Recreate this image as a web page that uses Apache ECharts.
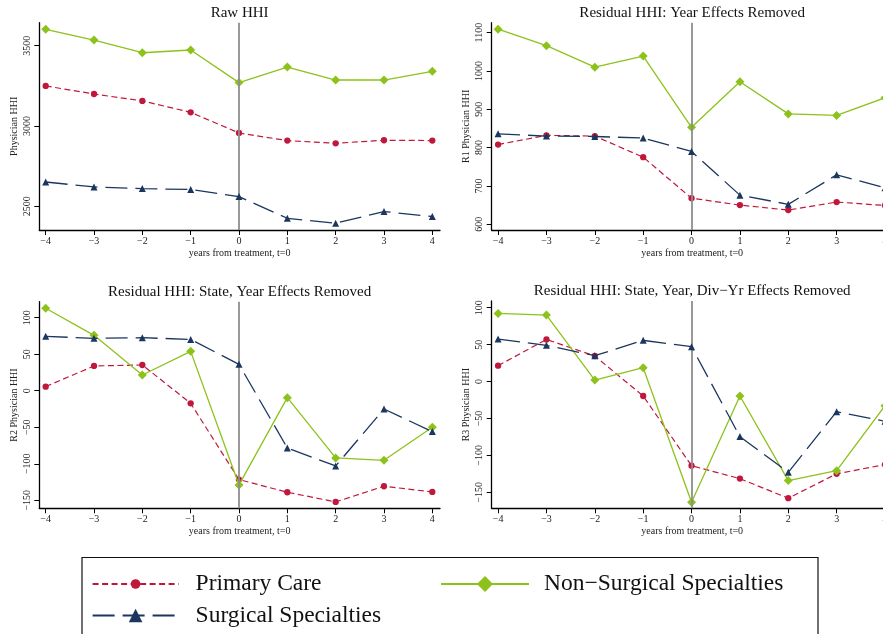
<!DOCTYPE html>
<html>
<head>
<meta charset="utf-8">
<script src="https://cdn.jsdelivr.net/npm/echarts@6/dist/echarts.min.js"></script>
<style>
  html, body { margin: 0; padding: 0; background: #ffffff; }
  #chart { width: 883px; height: 634px; }
</style>
</head>
<body>
<div id="chart"></div>
<script>
// Event time relative to treatment (t = 0)
const years = [-4, -3, -2, -1, 0, 1, 2, 3, 4];
const xTicks = [-4, -3, -2, -1, 0, 1, 2, 3, 4];

// Raw HHI
const rawPrimary   = [3249, 3199, 3156, 3085, 2956, 2909, 2892, 2911, 2909];
const rawSurgical  = [2651, 2620, 2610, 2604, 2560, 2425, 2394, 2467, 2436];
const rawNonSurg   = [3602, 3535, 3456, 3473, 3270, 3367, 3286, 3286, 3340];
const rawTicks     = [2500, 3000, 3500];

// Residual HHI: year effects removed
const r1Primary    = [808, 832, 830, 775, 668, 650, 637, 658, 649];
const r1Surgical   = [836, 830, 829, 825, 790, 676, 652, 729, 695];
const r1NonSurg    = [1109, 1066, 1010, 1039, 853, 972, 888, 884, 930];
const r1Ticks      = [600, 700, 800, 900, 1000, 1100];

// Residual HHI: state, year effects removed
const r2Primary    = [5.6, 33.9, 35.2, -17.2, -121.7, -139, -152.3, -130.8, -138.6];
const r2Surgical   = [74.5, 71.7, 72.6, 70.3, 36.1, -78.4, -103, -25, -56];
const r2NonSurg    = [113, 75.8, 21.5, 53.9, -129, -9.5, -92, -95.3, -50.1];
const r2Ticks      = [-150, -100, -50, 0, 50, 100];

// Residual HHI: state, year, division-year effects removed
const r3Primary    = [21.5, 57, 34.6, -19.6, -114, -131.5, -158, -125, -112.5];
const r3Surgical   = [57.6, 49, 35, 55.8, 47.2, -74.6, -123, -40.8, -53.9];
const r3NonSurg    = [92.3, 90, 2, 18.8, -163.5, -19.6, -134.2, -120.7, -32.7];
const r3Ticks      = [-150, -100, -50, 0, 50, 100];

const FONT = '"Liberation Serif", "DejaVu Serif", "Times New Roman", serif';
const NAME_PRIMARY  = 'Primary Care';
const NAME_SURGICAL = 'Surgical Specialties';
const NAME_NONSURG  = 'Non\u2212Surgical Specialties';
const C_PRIMARY  = '#c0183c';
const C_SURGICAL = '#1b365f';
const C_NONSURG  = '#8dc21c';

const fmtNum = v => (v < 0 ? '\u2212' + Math.abs(v) : String(v));

const panels = [
  { title: 'Raw HHI', yName: 'Physician HHI', ticks: rawTicks, yMin: 2352, yMax: 3643,
    grid: { left: 39.3, top: 22.7, width: 400.7, height: 207.3 },
    primary: rawPrimary, surgical: rawSurgical, nonsurg: rawNonSurg },
  { title: 'Residual HHI: Year Effects Removed', yName: 'R1 Physician HHI', ticks: r1Ticks, yMin: 585, yMax: 1126,
    grid: { left: 491.7, top: 22.7, width: 401, height: 207.3 },
    primary: r1Primary, surgical: r1Surgical, nonsurg: r1NonSurg },
  { title: 'Residual HHI: State, Year Effects Removed', yName: 'R2 Physician HHI', ticks: r2Ticks, yMin: -161, yMax: 121.9,
    grid: { left: 39.3, top: 301.7, width: 400.7, height: 206.6 },
    primary: r2Primary, surgical: r2Surgical, nonsurg: r2NonSurg },
  { title: 'Residual HHI: State, Year, Div\u2212Yr Effects Removed', yName: 'R3 Physician HHI', ticks: r3Ticks, yMin: -171.7, yMax: 109.1,
    grid: { left: 491.7, top: 301, width: 401, height: 207.3 },
    primary: r3Primary, surgical: r3Surgical, nonsurg: r3NonSurg }
];

const pairs = vals => years.map((x, i) => [x, vals[i]]);

const titles = [], grids = [], xAxes = [], yAxes = [], series = [];

panels.forEach((p, i) => {
  titles.push({
    text: p.title,
    left: p.grid.left + p.grid.width / 2,
    top: p.grid.top - 17,
    textAlign: 'center',
    padding: 0,
    textStyle: { fontFamily: FONT, fontSize: 15, fontWeight: 'normal', color: '#111' }
  });
  grids.push(Object.assign({ containLabel: false, outerBoundsMode: 'none' }, p.grid));
  xAxes.push({
    type: 'value', gridIndex: i, min: -4.132, max: 4.159,
    name: 'years from treatment, t=0', nameLocation: 'middle', nameGap: 18,
    nameTextStyle: { fontFamily: FONT, fontSize: 10, color: '#222' },
    axisLine: { show: true, onZero: false, lineStyle: { color: '#000', width: 1.3 } },
    axisTick: { show: true, length: 5, customValues: xTicks, lineStyle: { color: '#000', width: 1 } },
    axisLabel: { show: true, margin: 6, customValues: xTicks, formatter: fmtNum,
                 fontFamily: FONT, fontSize: 10, color: '#222' },
    splitLine: { show: false }
  });
  yAxes.push({
    type: 'value', gridIndex: i, min: p.yMin, max: p.yMax,
    name: p.yName, nameLocation: 'middle', nameGap: 20, nameRotate: 90,
    nameTextStyle: { fontFamily: FONT, fontSize: 10, color: '#222' },
    axisLine: { show: true, onZero: false, lineStyle: { color: '#000', width: 1.3 } },
    axisTick: { show: true, length: 5, customValues: p.ticks, lineStyle: { color: '#000', width: 1 } },
    axisLabel: { show: true, rotate: 90, margin: 7, customValues: p.ticks, formatter: fmtNum,
                 fontFamily: FONT, fontSize: 10, color: '#222' },
    splitLine: { show: false }
  });
  // treatment year reference line
  series.push({
    type: 'line', xAxisIndex: i, yAxisIndex: i, data: [], z: 1, silent: true,
    markLine: {
      silent: true, symbol: ['none', 'none'], label: { show: false },
      lineStyle: { color: '#8e8e8e', width: 1.8, type: 'solid' },
      emphasis: { disabled: true },
      data: [{ xAxis: 0 }]
    }
  });
  series.push({
    name: NAME_PRIMARY, type: 'line', xAxisIndex: i, yAxisIndex: i, z: 3,
    data: pairs(p.primary), symbol: 'circle', symbolSize: 6.3,
    itemStyle: { color: C_PRIMARY },
    lineStyle: { color: C_PRIMARY, width: 1.2, type: [6, 3.5] }
  });
  series.push({
    name: NAME_NONSURG, type: 'line', xAxisIndex: i, yAxisIndex: i, z: 4,
    data: pairs(p.nonsurg), symbol: 'diamond', symbolSize: [9, 9],
    itemStyle: { color: C_NONSURG },
    lineStyle: { color: C_NONSURG, width: 1.3, type: 'solid' }
  });
  series.push({
    name: NAME_SURGICAL, type: 'line', xAxisIndex: i, yAxisIndex: i, z: 5,
    data: pairs(p.surgical), symbol: 'triangle', symbolSize: 7,
    itemStyle: { color: C_SURGICAL },
    lineStyle: { color: C_SURGICAL, width: 1.3, type: [22, 8] }
  });
});

const legendText = { fontFamily: FONT, fontSize: 23.5, color: '#111', padding: [0, 0, 0, 12] };
const legends = [
  { data: [NAME_PRIMARY], left: 91.7, top: 582 - 10, itemWidth: 86, itemHeight: 12,
    lineStyle: { width: 1.8 }, textStyle: legendText },
  { data: [NAME_NONSURG], left: 440, top: 582 - 10, itemWidth: 88, itemHeight: 20,
    lineStyle: { width: 2 }, textStyle: Object.assign({}, legendText, { padding: [0, 0, 0, 10] }) },
  { data: [NAME_SURGICAL], left: 91.7, top: 614 - 10.5, itemWidth: 86, itemHeight: 17,
    lineStyle: { width: 1.8 }, textStyle: legendText }
].map(l => Object.assign({ show: true, orient: 'horizontal', padding: 0, itemGap: 0, selectedMode: false }, l));

const chart = echarts.init(document.getElementById('chart'), null, { renderer: 'canvas' });
chart.setOption({
  backgroundColor: '#ffffff',
  animation: false,
  title: titles,
  grid: grids,
  xAxis: xAxes,
  yAxis: yAxes,
  legend: legends,
  graphic: [{
    type: 'rect', z: -1, silent: true,
    shape: { x: 82, y: 557.5, width: 736, height: 120 },
    style: { fill: '#ffffff', stroke: '#111', lineWidth: 1.2 }
  }],
  series: series
});
</script>
</body>
</html>
